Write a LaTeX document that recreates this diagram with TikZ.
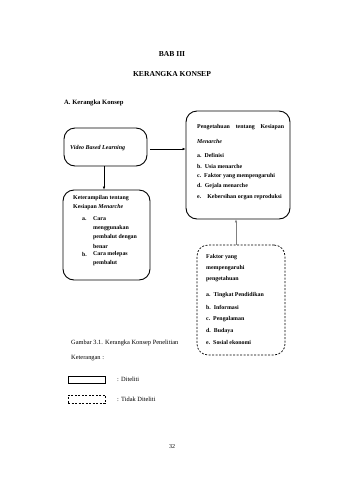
\documentclass[tikz,border=0pt]{standalone}
\usepackage{fontspec}
\setmainfont{Liberation Serif}
\usetikzlibrary{arrows.meta, positioning}

\begin{document}
\begin{tikzpicture}[x=1pt, y=-1pt,
  solidbox/.style={draw, rounded corners=11pt, line width=0.9pt, inner sep=0pt},
  dashbox/.style={draw, rounded corners=11pt, line width=0.7pt, dash pattern=on 2pt off 1.5pt, inner sep=0pt},
  boxtext/.style={font=\fontsize{5.9}{7}\selectfont\bfseries, anchor=west, inner sep=0pt},
  plaintext/.style={font=\fontsize{6.4}{8}\selectfont, anchor=west, inner sep=0pt},
  link/.style={-{Latex[length=3pt,width=2.6pt]}, line width=0.5pt}]
  \useasboundingbox (0,0) rectangle (339,480);

  % Heading
  \node[font=\fontsize{7.6}{9}\selectfont\bfseries] (bab) at (172,54) {BAB III};
  \node[font=\fontsize{7.6}{9}\selectfont\bfseries] (judul) at (172,74) {KERANGKA KONSEP};
  \node[font=\fontsize{6.6}{8}\selectfont\bfseries, anchor=west, inner sep=0pt] (sub) at (64,103) {A. Kerangka Konsep};

  % Boxes
  \node[solidbox, minimum width=83pt, minimum height=38pt] (vbl) at (105.5,147) {};
  \node[solidbox, minimum width=104pt, minimum height=108pt] (know) at (238,165) {};
  \node[solidbox, minimum width=87pt, minimum height=90pt] (skill) at (106.5,235) {};
  \node[dashbox, minimum width=88pt, minimum height=110pt] (factor) at (241,300) {};

  % Video Based Learning
  \node[boxtext, font=\fontsize{6}{7}\selectfont\bfseries\itshape] (vbltxt) at (70,148) {Video Based Learning};

  % Pengetahuan
  \node[boxtext] (k0) at (197,127) {\hbox to 87pt{Pengetahuan\hfill tentang\hfill Kesiapan}};
  \node[boxtext] (k1) at (197,141) {\itshape Menarche};
  \node[boxtext] (ka) at (197,155) {a.\ \ Definisi};
  \node[boxtext] (kb) at (197,166) {b.\ \ Usia menarche};
  \node[boxtext] (kc) at (197,176) {c.\ \ Faktor yang mempengaruhi};
  \node[boxtext] (kd) at (197,186) {d.\ \ Gejala menarche};
  \node[boxtext] (ke) at (197,197) {e.\hspace{6pt}Kebersihan organ reproduksi};

  % Keterampilan
  \node[boxtext] (s0) at (73,198) {Keterampilan tentang};
  \node[boxtext] (s1) at (73,207) {Kesiapan \textit{Menarche}};
  \node[boxtext] (sa) at (82,219) {a.};
  \node[boxtext] (sa1) at (93,219) {Cara};
  \node[boxtext] (sa2) at (93,228) {menggunakan};
  \node[boxtext] (sa3) at (93,237) {pembalut dengan};
  \node[boxtext] (sa4) at (93,246) {benar};
  \node[boxtext] (sb) at (82,254) {b.};
  \node[boxtext] (sb1) at (93,254) {Cara melepas};
  \node[boxtext] (sb2) at (93,263) {pembalut};

  % Faktor
  \node[boxtext] (f0) at (206,257) {Faktor yang};
  \node[boxtext] (f1) at (206,268) {mempengaruhi};
  \node[boxtext] (f2) at (206,279) {pengetahuan};
  \node[boxtext] (fa) at (206,295) {a.\ \ Tingkat Pendidikan};
  \node[boxtext] (fb) at (206,307) {b.\ \ Informasi};
  \node[boxtext] (fc) at (206,319) {c.\ \ Pengalaman};
  \node[boxtext] (fd) at (206,331) {d.\ \ Budaya};
  \node[boxtext] (fe) at (206,342) {e.\ \ Sosial ekonomi};

  % Arrows
  \draw[link] ([xshift=3pt]vbl.east |- 0,149) coordinate (a0) -- (a0 -| know.west);
  \draw[link] ([xshift=-1.5pt]vbl.south) -- ([xshift=-1.5pt]vbl.south |- skill.north);
  \draw[link, gray] ([xshift=-5pt]factor.north) -- ([xshift=-5pt]factor.north |- know.south);

  % Caption and legend
  \node[plaintext] (cap) at (71,343) {Gambar 3.1. Kerangka Konsep Penelitian};
  \node[plaintext] (ket) at (71,358) {Keterangan :};
  \node[draw, line width=0.6pt, minimum width=37pt, minimum height=7pt, inner sep=0pt] (lsolid) at (86.5,379.5) {};
  \node[plaintext] (ldit) at (117,379.5) {: Diteliti};
  \node[draw, line width=0.6pt, dash pattern=on 2pt off 1.5pt, minimum width=37pt, minimum height=8pt, inner sep=0pt] (ldash) at (86.5,399) {};
  \node[plaintext] (ltidak) at (117,399.5) {: Tidak Diteliti};

  % Page number
  \node[font=\fontsize{6}{7}\selectfont] (page) at (172,447) {32};
\end{tikzpicture}
\end{document}
